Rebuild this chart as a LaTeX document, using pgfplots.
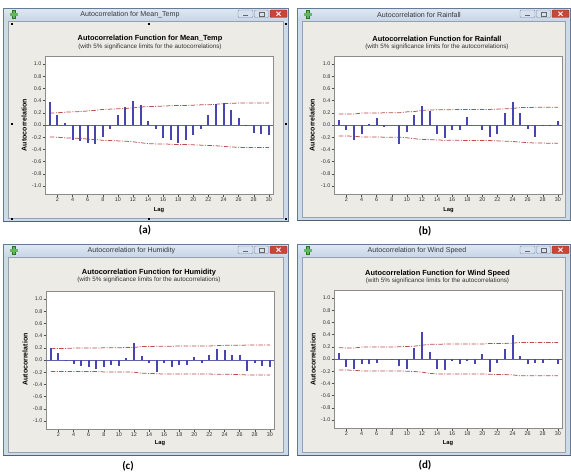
\documentclass[border=0pt]{standalone}
\usepackage{pgfplots}
\usepackage{pgfplotstable}
\pgfplotsset{compat=1.18}
\usepackage{fontspec}
\setmainfont{Liberation Sans}
\newfontfamily\carlito{Carlito}

\definecolor{framecol}{RGB}{205,218,232}
\definecolor{frameedge}{RGB}{100,122,150}
\definecolor{tbtop}{RGB}{222,232,243}
\definecolor{tbbot}{RGB}{200,213,230}
\definecolor{contentbg}{RGB}{237,235,229}
\definecolor{framein}{RGB}{150,160,175}
\definecolor{titletext}{RGB}{55,55,60}
\definecolor{barblue}{RGB}{72,68,176}
\definecolor{zeroblue}{RGB}{95,95,175}
\definecolor{limred}{RGB}{190,75,75}
\definecolor{iconcol}{RGB}{60,165,60}
\definecolor{btnfill}{RGB}{214,224,238}
\definecolor{btnedge}{RGB}{125,140,165}
\definecolor{closered}{RGB}{200,70,55}

\pgfplotstableread{
lag r up lo
1 0.37 0.195 -0.195
2 0.16 0.20 -0.20
3 0.03 0.21 -0.21
4 -0.25 0.215 -0.215
5 -0.27 0.22 -0.22
6 -0.30 0.23 -0.23
7 -0.31 0.24 -0.24
8 -0.20 0.255 -0.25
9 -0.07 0.26 -0.255
10 0.17 0.265 -0.26
11 0.29 0.27 -0.265
12 0.40 0.28 -0.275
13 0.32 0.295 -0.29
14 0.06 0.30 -0.305
15 -0.06 0.305 -0.31
16 -0.21 0.31 -0.31
17 -0.24 0.315 -0.315
18 -0.29 0.32 -0.32
19 -0.24 0.32 -0.32
20 -0.16 0.325 -0.325
21 -0.06 0.33 -0.33
22 0.16 0.33 -0.335
23 0.34 0.34 -0.34
24 0.36 0.35 -0.35
25 0.25 0.355 -0.36
26 0.12 0.36 -0.365
27 -0.01 0.36 -0.37
28 -0.13 0.36 -0.37
29 -0.14 0.36 -0.37
30 -0.17 0.36 -0.37
}\dataA

\pgfplotstableread{
lag r up lo
1 0.08 0.18 -0.18
2 -0.09 0.18 -0.18
3 -0.25 0.18 -0.185
4 -0.14 0.195 -0.195
5 0.01 0.195 -0.195
6 0.11 0.195 -0.195
7 -0.03 0.20 -0.20
8 0.00 0.20 -0.20
9 -0.31 0.20 -0.20
10 -0.11 0.215 -0.21
11 0.17 0.22 -0.225
12 0.31 0.24 -0.235
13 0.23 0.245 -0.24
14 -0.14 0.25 -0.245
15 -0.22 0.25 -0.25
16 -0.08 0.25 -0.25
17 -0.08 0.255 -0.25
18 0.13 0.255 -0.255
19 0.00 0.255 -0.255
20 -0.09 0.255 -0.255
21 -0.20 0.255 -0.255
22 -0.15 0.26 -0.26
23 0.20 0.265 -0.265
24 0.37 0.27 -0.27
25 0.20 0.285 -0.28
26 -0.06 0.285 -0.29
27 -0.20 0.29 -0.295
28 -0.01 0.29 -0.295
29 -0.01 0.29 -0.30
30 0.065 0.29 -0.30
}\dataB

\pgfplotstableread{
lag r up lo
1 0.19 0.185 -0.19
2 0.12 0.19 -0.19
3 -0.015 0.19 -0.19
4 -0.06 0.195 -0.19
5 -0.10 0.195 -0.19
6 -0.115 0.195 -0.19
7 -0.155 0.195 -0.19
8 -0.12 0.20 -0.195
9 -0.08 0.20 -0.195
10 -0.10 0.20 -0.195
11 0.03 0.205 -0.195
12 0.28 0.205 -0.20
13 0.06 0.22 -0.215
14 -0.045 0.22 -0.22
15 -0.20 0.225 -0.225
16 -0.05 0.225 -0.23
17 -0.115 0.225 -0.23
18 -0.08 0.23 -0.23
19 -0.08 0.23 -0.23
20 0.05 0.23 -0.23
21 -0.045 0.23 -0.23
22 0.09 0.23 -0.23
23 0.185 0.235 -0.235
24 0.17 0.24 -0.235
25 0.09 0.24 -0.235
26 0.09 0.24 -0.24
27 -0.175 0.245 -0.245
28 -0.045 0.245 -0.245
29 -0.10 0.245 -0.245
30 -0.12 0.245 -0.245
}\dataC

\pgfplotstableread{
lag r up lo
1 0.105 0.185 -0.18
2 -0.135 0.18 -0.18
3 -0.17 0.18 -0.185
4 -0.075 0.195 -0.195
5 -0.075 0.195 -0.195
6 -0.065 0.195 -0.195
7 0.00 0.195 -0.195
8 0.005 0.195 -0.195
9 -0.12 0.20 -0.195
10 -0.165 0.205 -0.20
11 0.18 0.21 -0.205
12 0.435 0.225 -0.215
13 0.12 0.24 -0.235
14 -0.16 0.24 -0.245
15 -0.18 0.245 -0.245
16 -0.04 0.245 -0.245
17 -0.075 0.245 -0.245
18 -0.03 0.245 -0.245
19 -0.08 0.245 -0.245
20 0.075 0.245 -0.245
21 -0.22 0.255 -0.25
22 -0.065 0.255 -0.255
23 0.165 0.255 -0.255
24 0.40 0.26 -0.26
25 0.055 0.27 -0.275
26 -0.075 0.27 -0.275
27 -0.065 0.27 -0.275
28 -0.07 0.27 -0.275
29 -0.005 0.27 -0.275
30 -0.08 0.27 -0.275
}\dataD

\pgfplotsset{
  acf/.style={
    scale only axis, width=228pt, height=138pt, anchor=south west,
    xmin=0.35, xmax=30.55, ymin=-1.13, ymax=1.13,
    xtick={2,4,...,30},
    ytick={-1,-0.8,-0.6,-0.4,-0.2,0,0.2,0.4,0.6,0.8,1},
    xtick pos=bottom, ytick pos=left,
    tick align=outside, major tick length=2.5pt,
    tick style={black!70, line width=0.4pt},
    axis line style={black!45, line width=0.5pt},
    axis background/.style={fill=white},
    tick label style={font=\fontsize{5.4}{6}\selectfont, text=black!80},
    xticklabel style={/pgf/number format/assume math mode=true},
    yticklabel style={/pgf/number format/.cd, fixed, fixed zerofill, precision=1, assume math mode=true},
    every tick label/.append style={inner sep=1pt},
    clip=true,
  },
  bars/.style={ycomb, no markers, barblue, line width=2pt},
  lims/.style={no markers, limred, line width=0.75pt, dash pattern=on 4.5pt off 1.4pt on 1pt off 1.4pt},
}

% window: #1 left, #2 right, #3 top, #4 bottom, #5 title, #6 title center x
\newcommand{\win}[6]{%
  \fill[framecol] (#1,#4) rectangle (#2,#3);
  \shade[top color=tbtop, bottom color=tbbot] ({#1+0.6},{#3-13}) rectangle ({#2-0.6},{#3-0.6});
  \draw[frameedge, line width=0.6pt] ({#1+0.3},{#4+0.3}) rectangle ({#2-0.3},{#3-0.3});
  \draw[frameedge!80!black, line width=1.2pt] ({#1+0.3},{#4+0.6}) -- ({#2-0.3},{#4+0.6});
  \fill[contentbg] ({#1+5.5},{#4+4}) rectangle ({#2-5.5},{#3-13});
  \draw[framein, line width=0.4pt] ({#1+5.5},{#4+4}) rectangle ({#2-5.5},{#3-13});
  \node[font=\fontsize{7.1}{8}\selectfont, text=titletext, inner sep=0] at (#6,{#3-6.6}) {#5};
  % icon
  \fill[iconcol!70!black] ({#1+11-1.8},{#3-6.5-4.3}) rectangle ({#1+11+1.8},{#3-6.5+4.3});
  \fill[iconcol!70!black] ({#1+11-4.3},{#3-6.5-1.8}) rectangle ({#1+11+4.3},{#3-6.5+1.8});
  \fill[iconcol!80!white] ({#1+11-1.2},{#3-6.5-3.7}) rectangle ({#1+11+1.2},{#3-6.5+3.7});
  \fill[iconcol!80!white] ({#1+11-3.7},{#3-6.5-1.2}) rectangle ({#1+11+3.7},{#3-6.5+1.2});
  % buttons
  \draw[btnedge, fill=btnfill, rounded corners=1pt, line width=0.4pt] ({#2-51},{#3-9.5}) rectangle ({#2-36},{#3-2});
  \draw[black!60, line width=0.8pt] ({#2-46},{#3-7.3}) -- ({#2-41},{#3-7.3});
  \draw[btnedge, fill=btnfill, rounded corners=1pt, line width=0.4pt] ({#2-34.5},{#3-9.5}) rectangle ({#2-20.5},{#3-2});
  \draw[black!60, line width=0.5pt] ({#2-30},{#3-8}) rectangle ({#2-25},{#3-4});
  \draw[closered!70!black, fill=closered, rounded corners=1pt, line width=0.4pt] ({#2-19},{#3-9.5}) rectangle ({#2-2},{#3-2});
  \draw[white, line width=0.9pt] ({#2-12.5},{#3-7.8}) -- ({#2-8.5},{#3-3.7}) ({#2-12.5},{#3-3.7}) -- ({#2-8.5},{#3-7.8});
}

\newcommand{\ctitle}[3]{%
  \node[font=\bfseries\fontsize{7.4}{8}\selectfont, inner sep=0] at (#1,#2) {Autocorrelation Function for #3};
  \node[font=\fontsize{6.3}{7}\selectfont, text=black!80, inner sep=0] at (#1,{#2-8}) {(with 5\% significance limits for the autocorrelations)};
}

\newcommand{\axlabels}[4]{%
  \node[font=\bfseries\fontsize{7}{8}\selectfont, rotate=90, inner sep=0] at (#1,#2) {Autocorrelation};
  \node[font=\bfseries\fontsize{5.8}{7}\selectfont, inner sep=0] at (#3,#4) {Lag};
}

\begin{document}
\begin{tikzpicture}[x=1pt,y=1pt]
\path[use as bounding box, fill=white] (0,0) rectangle (571,475);

% ---------- windows ----------
\win{3}{289}{467}{253}{Autocorrelation for Mean\_Temp}{130}
\win{297}{571}{467}{254}{Autocorrelation for Rainfall}{419}
\win{3}{289}{231}{19}{Autocorrelation for Humidity}{131.5}
\win{297}{571}{231}{19}{Autocorrelation for Wind Speed}{417}

% selection handles on (a)
\foreach \hx/\hy in {12/451,149/451,286/451,12/351,286/351,12/256,149/256,286/256}
  \fill[black] ({\hx-1.3},{\hy-1.3}) rectangle ({\hx+1.3},{\hy+1.3});

% ---------- titles & labels ----------
\ctitle{150}{436.3}{Mean\_Temp}
\ctitle{437}{435.7}{Rainfall}
\ctitle{149}{202.7}{Humidity}
\ctitle{437.5}{201.7}{Wind Speed}

\axlabels{24}{350}{159}{265}
\axlabels{312}{350}{448.5}{265}
\axlabels{25}{115.5}{160}{32}
\axlabels{313}{115.5}{448}{32}

\node[font=\carlito\bfseries\fontsize{11}{12}\selectfont, inner sep=0] at (145,245) {(a)};
\node[font=\carlito\bfseries\fontsize{11}{12}\selectfont, inner sep=0] at (425,244) {(b)};
\node[font=\carlito\bfseries\fontsize{11}{12}\selectfont, inner sep=0] at (128,8.5) {(c)};
\node[font=\carlito\bfseries\fontsize{11}{12}\selectfont, inner sep=0] at (425,10) {(d)};

% ---------- axes ----------
\begin{axis}[acf, at={(45pt,281pt)}]
  \draw[zeroblue, line width=0.5pt] (axis cs:0.35,0) -- (axis cs:30.55,0);
  \addplot[lims] table[x=lag,y=up]{\dataA};
  \addplot[lims] table[x=lag,y=lo]{\dataA};
  \addplot[bars] table[x=lag,y=r]{\dataA};
\end{axis}

\begin{axis}[acf, at={(334pt,281pt)}]
  \draw[zeroblue, line width=0.5pt] (axis cs:0.35,0) -- (axis cs:30.55,0);
  \addplot[lims] table[x=lag,y=up]{\dataB};
  \addplot[lims] table[x=lag,y=lo]{\dataB};
  \addplot[bars] table[x=lag,y=r]{\dataB};
\end{axis}

\begin{axis}[acf, at={(46pt,46pt)}]
  \draw[zeroblue, line width=0.5pt] (axis cs:0.35,0) -- (axis cs:30.55,0);
  \addplot[lims] table[x=lag,y=up]{\dataC};
  \addplot[lims] table[x=lag,y=lo]{\dataC};
  \addplot[bars] table[x=lag,y=r]{\dataC};
\end{axis}

\begin{axis}[acf, at={(334pt,47pt)}]
  \draw[zeroblue, line width=0.5pt] (axis cs:0.35,0) -- (axis cs:30.55,0);
  \addplot[lims] table[x=lag,y=up]{\dataD};
  \addplot[lims] table[x=lag,y=lo]{\dataD};
  \addplot[bars] table[x=lag,y=r]{\dataD};
\end{axis}
\end{tikzpicture}
\end{document}
